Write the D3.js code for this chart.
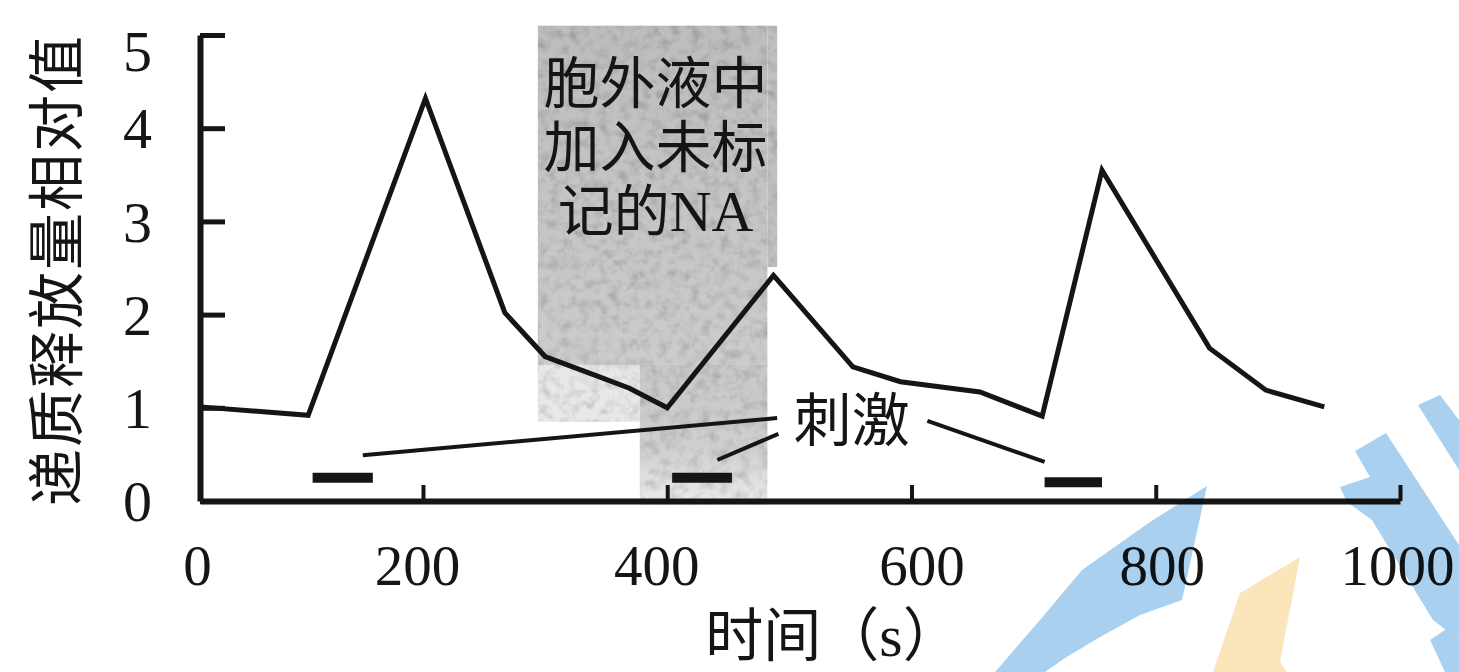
<!DOCTYPE html>
<html>
<head>
<meta charset="utf-8">
<script src="https://cdn.jsdelivr.net/npm/d3@7"></script>
<style>
  html, body { margin: 0; padding: 0; background: #fff; }
  svg { display: block; }
</style>
</head>
<body>
<svg id="chart" width="1459" height="672"></svg>
<script>
// ---------------- data ----------------
const times  = [0, 97, 202, 267, 300, 345, 369, 400, 487, 552, 591, 656, 707, 756, 844, 890, 938];
const values = [1.01, 0.92, 4.32, 2.02, 1.55, 1.33, 1.21, 1.00, 2.42, 1.44, 1.28, 1.17, 0.91, 3.55, 1.64, 1.19, 1.01];

const stimStart = [101, 404, 709];
const stimEnd   = [155, 453, 756];
const stimLevel = [0.25, 0.25, 0.2];

const naPeriod = [294, 482];          // unlabeled NA added to extracellular fluid
const xTickValues = [0, 200, 400, 600, 800, 1000];
const yTickValues = [0, 1, 2, 3, 4, 5];

const yTitle = "递质释放量相对值";
const xTitle = "时间（";
const xUnit = "s";
const stimLabel = "刺激";
const naLines = ["胞外液中", "加入未标", "记的"];

// ---------------- layout ----------------
const svg = d3.select("#chart");
const x = d3.scaleLinear().domain([0, 200, 1000]).range([200, 423, 1400]);
const y = d3.scaleLinear().domain([0, 5]).range([501, 35]);
const ink = "#151515";
const cjk = "'Noto Sans CJK SC', 'Noto Sans', sans-serif";
const cjkTight = "'Liberation Sans', 'Noto Sans CJK SC', sans-serif";
const serif = "'Liberation Serif', 'DejaVu Serif', serif";

// defs: gradient + grain
const defs = svg.append("defs");
const g1 = defs.append("linearGradient").attr("id", "shadeGrad").attr("x1", 0).attr("y1", 0).attr("x2", 0).attr("y2", 1);
g1.append("stop").attr("offset", "0%").attr("stop-color", "#bdbdbd");
g1.append("stop").attr("offset", "100%").attr("stop-color", "#cccccc");
const g2 = defs.append("linearGradient").attr("id", "shadeGrad2").attr("x1", 0).attr("y1", 0).attr("x2", 0).attr("y2", 1);
g2.append("stop").attr("offset", "0%").attr("stop-color", "#c8c8c8");
g2.append("stop").attr("offset", "60%").attr("stop-color", "#cfcfcf");
g2.append("stop").attr("offset", "100%").attr("stop-color", "#ececec");
const f = defs.append("filter").attr("id", "grain").attr("x", 0).attr("y", 0).attr("width", "100%").attr("height", "100%");
f.append("feTurbulence").attr("type", "fractalNoise").attr("baseFrequency", 0.1).attr("numOctaves", 3).attr("seed", 4).attr("result", "noise");
f.append("feColorMatrix").attr("in", "noise").attr("type", "matrix")
  .attr("values", "0.35 0.35 0.35 0 0.42  0.35 0.35 0.35 0 0.42  0.35 0.35 0.35 0 0.42  0 0 0 0 1").attr("result", "gray");
f.append("feComposite").attr("in", "gray").attr("in2", "SourceGraphic").attr("operator", "in").attr("result", "clipped");
f.append("feBlend").attr("in", "clipped").attr("in2", "SourceGraphic").attr("mode", "multiply");

// shaded NA period
const shade = svg.append("g").attr("filter", "url(#grain)");
const midT = 377.5;
shade.append("rect")
  .attr("x", x(naPeriod[0])).attr("y", y(5.1))
  .attr("width", x(naPeriod[1]) - x(naPeriod[0])).attr("height", y(1.46) - y(5.1))
  .attr("fill", "url(#shadeGrad)");
shade.append("rect")
  .attr("x", x(naPeriod[1])).attr("y", y(5.1))
  .attr("width", x(490) - x(naPeriod[1])).attr("height", y(2.51) - y(5.1))
  .attr("fill", "#c0c0c0");
shade.append("rect")
  .attr("x", x(naPeriod[0])).attr("y", y(1.46))
  .attr("width", x(midT) - x(naPeriod[0])).attr("height", y(0.85) - y(1.46))
  .attr("fill", "#e8e8e8");
shade.append("rect")
  .attr("x", x(midT)).attr("y", y(1.46))
  .attr("width", x(naPeriod[1]) - x(midT)).attr("height", y(-0.04) - y(1.46))
  .attr("fill", "url(#shadeGrad2)");

// NA text: one text element, wrapped over three lines
const naX = (x(naPeriod[0]) + x(naPeriod[1])) / 2 + 3;
const naText = svg.append("text")
  .attr("x", naX).attr("y", 103)
  .attr("text-anchor", "middle")
  .attr("font-family", cjkTight).attr("font-size", 56).attr("fill", ink);
naLines.forEach((s, i) => {
  naText.append("tspan").attr("x", naX).attr("dy", i === 0 ? 0 : 64).text(s);
  if (i === naLines.length - 1) {
    naText.append("tspan").attr("font-family", serif).attr("font-size", 58).text("NA");
  }
});

// axes
const xAxis = svg.append("g").attr("transform", `translate(0,${y(0)})`)
  .call(d3.axisBottom(x).tickValues(xTickValues).tickFormat(d3.format("d"))
    .tickSizeInner(-16).tickSizeOuter(0).tickPadding(44));
xAxis.select(".domain").attr("stroke", ink).attr("stroke-width", 6);
xAxis.selectAll(".tick line").attr("stroke", ink).attr("stroke-width", 4);
xAxis.selectAll(".tick text").attr("font-family", serif).attr("font-size", 57).attr("fill", ink)
  .attr("dx", (d, i) => [-3, -6, -11, 10, 6, -3][i]);

const yAxis = svg.append("g").attr("transform", `translate(${x(0)},0)`)
  .call(d3.axisLeft(y).tickValues(yTickValues).tickFormat(d3.format("d"))
    .tickSizeInner(-25).tickSizeOuter(0).tickPadding(48));
yAxis.select(".domain").attr("stroke", ink).attr("stroke-width", 6);
yAxis.selectAll(".tick line").attr("stroke", ink).attr("stroke-width", 5);
yAxis.selectAll(".tick text").attr("font-family", serif).attr("font-size", 58).attr("fill", ink)
  .attr("dy", d => d === 5 ? "0.62em" : "0.34em");

// data line
const pts = times.map((t, i) => [t, values[i]]);
svg.append("path")
  .datum(pts)
  .attr("d", d3.line().x(d => x(d[0])).y(d => y(d[1])))
  .attr("fill", "none").attr("stroke", ink).attr("stroke-width", 5)
  .attr("stroke-linejoin", "miter");

// stimulus bars
svg.append("g").selectAll("line").data(stimStart).join("line")
  .attr("x1", d => x(d)).attr("x2", (d, i) => x(stimEnd[i]))
  .attr("y1", (d, i) => y(stimLevel[i])).attr("y2", (d, i) => y(stimLevel[i]))
  .attr("stroke", ink).attr("stroke-width", 10);

// stimulus callout
const callouts = [
  [[146, 0.49], [490, 0.89]],
  [[441, 0.44], [491, 0.72]],
  [[613, 0.86], [709, 0.42]]
];
svg.append("g").selectAll("line").data(callouts).join("line")
  .attr("x1", d => x(d[0][0])).attr("y1", d => y(d[0][1]))
  .attr("x2", d => x(d[1][0])).attr("y2", d => y(d[1][1]))
  .attr("stroke", ink).attr("stroke-width", 4);
svg.append("text")
  .attr("x", x(551)).attr("y", 416)
  .attr("text-anchor", "middle").attr("dominant-baseline", "central")
  .attr("font-family", cjk).attr("font-size", 58).attr("fill", ink).text(stimLabel);

// axis titles
svg.append("text")
  .attr("transform", "translate(52,270) rotate(-90)")
  .attr("text-anchor", "middle").attr("dominant-baseline", "central")
  .attr("font-family", cjk).attr("font-size", 57).attr("letter-spacing", 2).attr("fill", ink)
  .text(yTitle);
const xt = svg.append("text")
  .attr("x", 833).attr("y", 656)
  .attr("text-anchor", "middle")
  .attr("font-family", cjkTight).attr("font-size", 58).attr("fill", ink)
  .text(xTitle);
xt.append("tspan").attr("font-family", serif).attr("font-size", 60).text(xUnit);
xt.append("tspan").text("）");

// watermark shapes
const wm = svg.append("g").style("mix-blend-mode", "multiply");
const blue = "#a9d0ee", orange = "#fbe5bb";
const polys = [
  { c: blue, p: [[1207,486],[1182,600],[1140,615],[1100,637],[1065,658],[1045,672],[995,672],[1040,620],[1082,570],[1150,522]] },
  { c: orange, p: [[1300,557],[1240,593],[1213,672],[1287,672],[1280,662]] },
  { c: blue, p: [[1355,451],[1386,433],[1459,545],[1459,640],[1433,620],[1372,520],[1347,502],[1340,487],[1370,477]] },
  { c: blue, p: [[1418,405],[1440,395],[1459,420],[1459,470]] },
  { c: blue, p: [[1430,640],[1448,628],[1459,640],[1459,672],[1445,672]] }
];
polys.forEach(o => {
  wm.append("path").attr("d", "M" + o.p.map(q => q.join(",")).join("L") + "Z").attr("fill", o.c);
});
</script>
</body>
</html>
